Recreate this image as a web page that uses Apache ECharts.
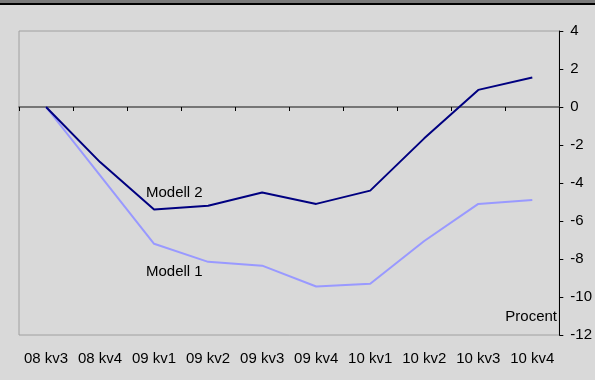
<!DOCTYPE html>
<html>
<head>
<meta charset="utf-8">
<script src="https://cdn.jsdelivr.net/npm/echarts@6/dist/echarts.min.js"></script>
<style>
  html, body { margin: 0; padding: 0; background: #d9d9d9; }
  #chart { width: 595px; height: 380px; }
</style>
</head>
<body>
<div id="chart"></div>
<script>
// kvartal
var quarters = ['08 kv3', '08 kv4', '09 kv1', '09 kv2', '09 kv3', '09 kv4', '10 kv1', '10 kv2', '10 kv3', '10 kv4'];
var modell1 = [0, -3.6, -7.2, -8.15, -8.35, -9.45, -9.3, -7.05, -5.1, -4.9];
var modell2 = [0, -2.9, -5.4, -5.2, -4.5, -5.1, -4.4, -1.65, 0.9, 1.55];
var yMin = -12, yMax = 4, yStep = 2;

var font = '"Liberation Sans", Arial, Helvetica, sans-serif';
var chart = echarts.init(document.getElementById('chart'));

var option = {
  backgroundColor: '#d9d9d9',
  animation: false,
  textStyle: { fontFamily: font },
  grid: {
    left: 19, right: 35, top: 31, bottom: 45,
    containLabel: false,
    show: true,
    borderColor: '#a0a0a0',
    borderWidth: 1,
    backgroundColor: 'transparent'
  },
  xAxis: [
    {
      // etiketter längst ner
      type: 'category',
      data: quarters,
      position: 'bottom',
      boundaryGap: true,
      axisLine: { show: false, onZero: false },
      axisTick: { show: false },
      axisLabel: { interval: 0, margin: 16, color: '#000', fontSize: 15, fontFamily: font },
      splitLine: { show: false }
    },
    {
      // nollinjen med tick-markeringar
      type: 'category',
      data: quarters,
      position: 'bottom',
      boundaryGap: true,
      axisLine: { show: true, onZero: true, lineStyle: { color: '#555', width: 1.5 } },
      axisTick: { show: true, length: 4, lineStyle: { color: '#000', width: 1 } },
      axisLabel: { show: false },
      splitLine: { show: false }
    }
  ],
  yAxis: {
    type: 'value',
    position: 'right',
    min: yMin, max: yMax, interval: yStep,
    axisLine: { show: true, onZero: false, lineStyle: { color: '#000', width: 1 } },
    axisTick: { show: true, length: 4, lineStyle: { color: '#000' } },
    axisLabel: { margin: 11, color: '#000', fontSize: 15, fontFamily: font },
    splitLine: { show: false }
  },
  series: [
    {
      name: 'Modell 1',
      type: 'line',
      xAxisIndex: 0,
      data: modell1,
      symbol: 'none',
      lineStyle: { color: '#9999ff', width: 2 },
      z: 3
    },
    {
      name: 'Modell 2',
      type: 'line',
      xAxisIndex: 0,
      data: modell2,
      symbol: 'none',
      lineStyle: { color: '#000080', width: 2 },
      z: 4
    }
  ],
  graphic: [
    { type: 'rect', left: 0, top: 0, shape: { width: 595, height: 3 }, style: { fill: '#7a7a7a' } },
    { type: 'rect', left: 0, top: 3, shape: { width: 595, height: 2 }, style: { fill: '#000' } },
    { type: 'text', left: 146, top: 185, style: { text: 'Modell 2', fill: '#000', font: '15px ' + font } },
    { type: 'text', left: 146, top: 264, style: { text: 'Modell 1', fill: '#000', font: '15px ' + font } },
    { type: 'text', right: 38, top: 309, style: { text: 'Procent', fill: '#000', font: '15px ' + font } }
  ]
};

chart.setOption(option);
</script>
</body>
</html>
